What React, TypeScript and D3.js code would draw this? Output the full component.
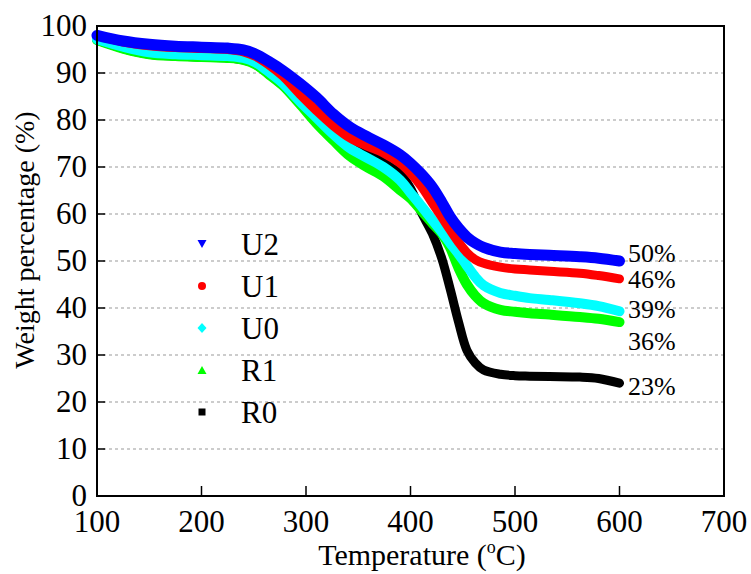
import React from "react";
import * as d3 from "d3";

const temps = [100, 125, 150, 175, 200, 225, 240, 252, 264, 278, 294, 310, 326, 342, 358, 374, 390, 400, 410, 421, 430, 438, 446, 454, 462, 470, 486, 500, 514, 533, 562, 580, 600];
const u2 = [98, 96.8, 96.1, 95.7, 95.5, 95.3, 94.9, 94.0, 92.5, 90.5, 87.8, 84.8, 81.3, 78.5, 76.5, 74.7, 72.6, 70.8, 68.6, 65.7, 62.5, 59.4, 57.0, 55.1, 53.8, 52.9, 51.9, 51.6, 51.4, 51.2, 50.9, 50.6, 50.0];
const u1 = [98, 96.6, 95.8, 95.4, 95.2, 95.0, 94.5, 93.5, 91.8, 89.3, 85.5, 82.0, 78.8, 76.2, 74.5, 73.0, 70.8, 68.7, 66.0, 62.3, 59.3, 56.6, 54.0, 51.8, 50.3, 49.5, 48.7, 48.3, 48.1, 47.8, 47.4, 46.9, 46.2];
const u0 = [97.2, 95.6, 94.4, 94.0, 93.8, 93.6, 93.2, 92.2, 90.3, 87.8, 84.0, 80.5, 77.0, 74.0, 72.0, 70.0, 67.2, 64.5, 61.8, 58.7, 56.2, 53.8, 51.5, 49.0, 46.6, 44.8, 43.2, 42.6, 42.1, 41.7, 41.0, 40.4, 39.3];
const r1 = [97.0, 95.2, 94.0, 93.6, 93.4, 93.2, 92.8, 91.8, 89.8, 87.3, 83.4, 79.3, 75.7, 72.3, 70.0, 68.0, 65.1, 63.3, 60.8, 58.0, 55.8, 52.8, 48.5, 45.0, 42.6, 41.0, 39.6, 39.2, 38.9, 38.6, 38.1, 37.7, 37.0];
const r0 = [97.0, 95.2, 94.0, 93.6, 93.4, 93.2, 92.8, 91.8, 89.8, 87.3, 83.8, 80.5, 77.5, 75.1, 73.0, 71.0, 68.5, 65.5, 60.5, 55.8, 50.5, 44.0, 37.0, 31.0, 28.3, 26.8, 25.9, 25.6, 25.5, 25.4, 25.3, 25.0, 24.0];

const seriesNames = ["U2", "U1", "U0", "R1", "R0"];
const seriesValues = [u2, u1, u0, r1, r0];
const seriesColors = ["#0000ff", "#ff0000", "#00ffff", "#00ff00", "#000000"];
const seriesWidths = [11, 9, 10, 10, 9];
const endLabels = ["50%", "46%", "39%", "36%", "23%"];

const xTicks = [100, 200, 300, 400, 500, 600, 700];
const yTicks = [0, 10, 20, 30, 40, 50, 60, 70, 80, 90, 100];

const FONT = "Liberation Serif";

export default function App() {
  const L = 97, R = 724, T = 26, B = 496;
  const x = d3.scaleLinear().domain([100, 700]).range([L, R]);
  const y = d3.scaleLinear().domain([0, 100]).range([B, T]);
  const line = d3
    .line<number>()
    .x((_, i) => x(temps[i]))
    .y((d) => y(d))
    .curve(d3.curveCatmullRom.alpha(0.5));

  const drawOrder = [4, 3, 2, 1, 0];

  const marker = (i: number, cx: number, cy: number) => {
    const c = seriesColors[i];
    if (i === 0) return <path d={`M${cx - 4.5},${cy - 4} L${cx + 4.5},${cy - 4} L${cx},${cy + 4} Z`} fill={c} />;
    if (i === 1) return <circle cx={cx} cy={cy} r={4} fill={c} />;
    if (i === 2) return <path d={`M${cx},${cy - 5} L${cx + 4.5},${cy} L${cx},${cy + 5} L${cx - 4.5},${cy} Z`} fill={c} />;
    if (i === 3) return <path d={`M${cx - 4.5},${cy + 4} L${cx + 4.5},${cy + 4} L${cx},${cy - 4} Z`} fill={c} />;
    return <rect x={cx - 3.5} y={cy - 3.5} width={7} height={7} fill={c} />;
  };

  const legendY = [244, 286, 328, 370, 412];
  const labelBase = [262, 288, 318, 350, 395];

  return (
    <svg width={751} height={574} style={{ position: "absolute", left: 0, top: 0, background: "#fff" }}>
      <rect x={0} y={0} width={751} height={574} fill="#fff" />
      {yTicks.filter((t) => t > 0 && t < 100).map((t) => (
        <line key={"g" + t} x1={L} x2={R} y1={y(t)} y2={y(t)} stroke="#999" strokeWidth={1} strokeDasharray="3,3" />
      ))}
      {drawOrder.map((i) => (
        <path key={"s" + i} d={line(seriesValues[i]) || ""} fill="none" stroke={seriesColors[i]} strokeWidth={seriesWidths[i]} strokeLinecap="round" strokeLinejoin="round" />
      ))}
      <rect x={L} y={T} width={R - L} height={B - T} fill="none" stroke="#000" strokeWidth={2} />
      {yTicks.map((t) => (
        <g key={"y" + t}>
          <line x1={L} x2={L + 8} y1={y(t)} y2={y(t)} stroke="#000" strokeWidth={1.5} />
          <text x={L - 10} y={y(t) + 10} textAnchor="end" fontSize={31} fontFamily={FONT}>{t}</text>
        </g>
      ))}
      {xTicks.map((t) => (
        <g key={"x" + t}>
          <line x1={x(t)} x2={x(t)} y1={B} y2={B - 10} stroke="#000" strokeWidth={1.5} />
          <text x={x(t)} y={532} textAnchor="middle" fontSize={31} fontFamily={FONT}>{t}</text>
        </g>
      ))}
      <text x={422} y={565} textAnchor="middle" fontSize={30} fontFamily={FONT}>
        Temperature (<tspan dy={-12} fontSize={18}>o</tspan><tspan dy={12}>C)</tspan>
      </text>
      <text transform="translate(34,240) rotate(-90)" textAnchor="middle" fontSize={28} fontFamily={FONT}>Weight percentage (%)</text>
      {seriesNames.map((n, i) => (
        <g key={"l" + n}>
          {marker(i, 202, legendY[i])}
          <text x={241} y={legendY[i] + 11} fontSize={31} fontFamily={FONT}>{n}</text>
        </g>
      ))}
      {endLabels.map((s, i) => (
        <text key={"e" + i} x={628} y={labelBase[i]} fontSize={26} fontFamily={FONT}>{s}</text>
      ))}
    </svg>
  );
}
